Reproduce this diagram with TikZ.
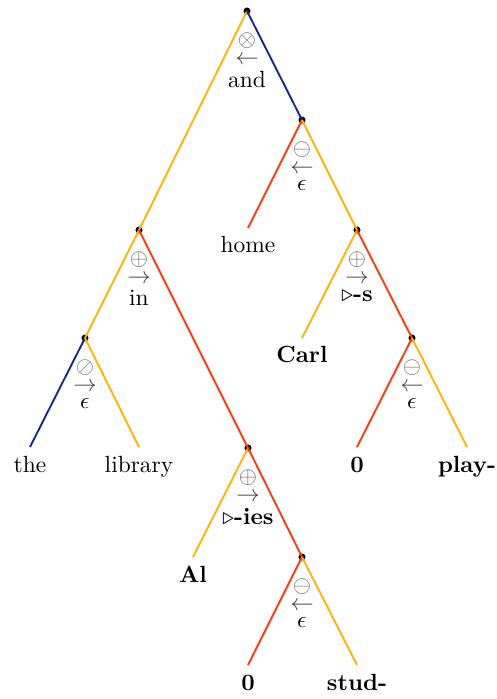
\documentclass[tikz,border=0pt]{standalone}
\usepackage{amsmath,amssymb}
\usetikzlibrary{positioning}
\definecolor{branchorange}{RGB}{255,181,0}
\definecolor{branchred}{RGB}{255,56,16}
\definecolor{branchblue}{RGB}{20,40,140}
\tikzset{
  orangeedge/.style={draw=branchorange, thick},
  rededge/.style={draw=branchred, thick},
  blueedge/.style={draw=branchblue, thick},
  dot/.style={circle, fill=black, inner sep=0pt, minimum size=3pt},
  oplabel/.style={anchor=north, inner sep=0pt},
  leaf/.style={anchor=base, inner sep=0pt},
}
\newcommand{\opstack}[3]{\shortstack{{\color{black!60}$#1$}\\{\color{black!75}$#2$}\\#3}}
\newcommand{\sfx}[1]{$\triangleright$\textbf{#1}}

\begin{document}
\begin{tikzpicture}[x=0.015cm, y=-0.015cm]
  \useasboundingbox (0,0) rectangle (496,699);

  % Inner nodes
  \node[dot] (and)  at (247,11)  {};
  \node[dot] (eps1) at (302,120) {};
  \node[dot] (in)   at (139,230) {};
  \node[dot] (s)    at (357,230) {};
  \node[dot] (eps2) at (85,338)  {};
  \node[dot] (eps3) at (412,338) {};
  \node[dot] (ies)  at (248,448) {};
  \node[dot] (eps4) at (302,557) {};

  % Ends of the leaf branches
  \coordinate (home-e)  at (248,228);
  \coordinate (carl-e)  at (302,338);
  \coordinate (the-e)   at (30,447);
  \coordinate (lib-e)   at (139,447);
  \coordinate (zero1-e) at (357,447);
  \coordinate (play-e)  at (467,447);
  \coordinate (al-e)    at (193,557);
  \coordinate (zero2-e) at (248,665);
  \coordinate (stud-e)  at (357,665);

  % Leaves
  \node[leaf] (home)  at (248,252) {home};
  \node[leaf] (carl)  at (302,362) {\textbf{Carl}};
  \node[leaf] (the)   at (30,472)  {the};
  \node[leaf] (lib)   at (139,472) {library};
  \node[leaf] (zero1) at (357,472) {\textbf{0}};
  \node[leaf] (play)  at (467,472) {\textbf{play-}};
  \node[leaf] (al)    at (193,582) {\textbf{Al}};
  \node[leaf] (zero2) at (248,690) {\textbf{0}};
  \node[leaf] (stud)  at (357,690) {\textbf{stud-}};

  % Branches
  \draw[orangeedge] (and.center) -- (in.center);
  \draw[blueedge]   (and.center) -- (eps1.center);
  \draw[rededge]    (eps1.center) -- (home-e);
  \draw[orangeedge] (eps1.center) -- (s.center);
  \draw[orangeedge] (s.center) -- (carl-e);
  \draw[rededge]    (s.center) -- (eps3.center);
  \draw[rededge]    (eps3.center) -- (zero1-e);
  \draw[orangeedge] (eps3.center) -- (play-e);
  \draw[orangeedge] (in.center) -- (eps2.center);
  \draw[rededge]    (in.center) -- (ies.center);
  \draw[blueedge]   (eps2.center) -- (the-e);
  \draw[orangeedge] (eps2.center) -- (lib-e);
  \draw[orangeedge] (ies.center) -- (al-e);
  \draw[rededge]    (ies.center) -- (eps4.center);
  \draw[rededge]    (eps4.center) -- (zero2-e);
  \draw[orangeedge] (eps4.center) -- (stud-e);

  % Operation labels
  \node[oplabel, below=7.5pt of and]  (and-l)  {\opstack{\otimes}{\leftarrow}{and}};
  \node[oplabel, below=7.5pt of eps1] (eps1-l) {\opstack{\ominus}{\leftarrow}{$\epsilon$}};
  \node[oplabel, below=7.5pt of in]   (in-l)   {\opstack{\oplus}{\rightarrow}{in}};
  \node[oplabel, below=7.5pt of s]    (s-l)    {\opstack{\oplus}{\rightarrow}{\sfx{-s}}};
  \node[oplabel, below=7.5pt of eps2] (eps2-l) {\opstack{\oslash}{\rightarrow}{$\epsilon$}};
  \node[oplabel, below=7.5pt of eps3] (eps3-l) {\opstack{\ominus}{\leftarrow}{$\epsilon$}};
  \node[oplabel, below=7.5pt of ies]  (ies-l)  {\opstack{\oplus}{\rightarrow}{\sfx{-ies}}};
  \node[oplabel, below=7.5pt of eps4] (eps4-l) {\opstack{\ominus}{\leftarrow}{$\epsilon$}};

\end{tikzpicture}
\end{document}
